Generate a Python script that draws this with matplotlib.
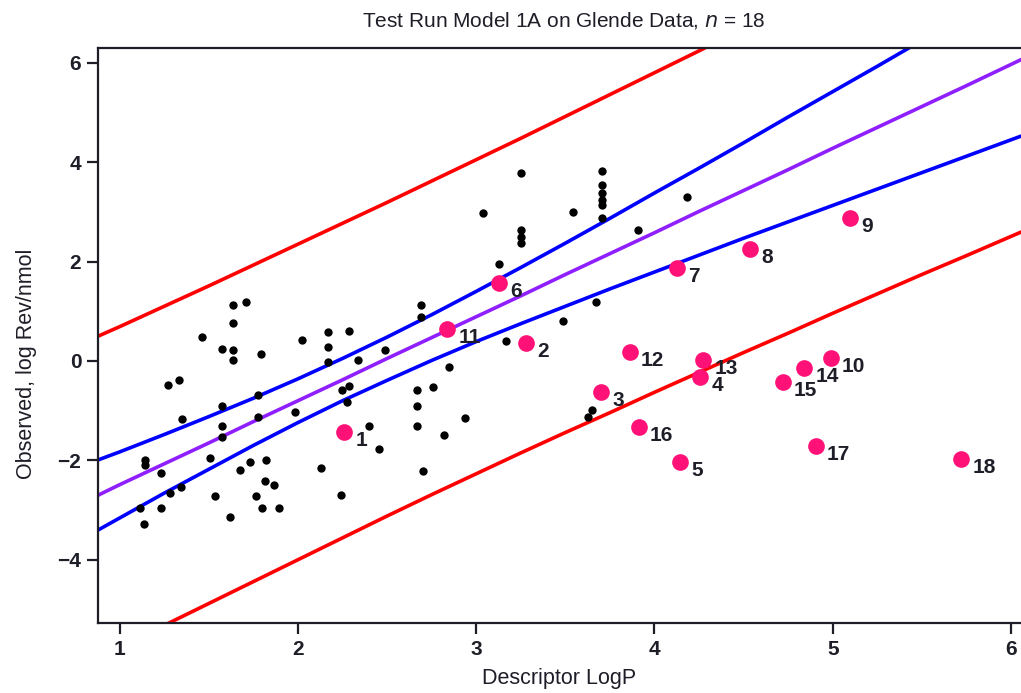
import matplotlib
matplotlib.use("Agg")
import matplotlib.pyplot as plt

plt.rcParams['font.family'] = ['Liberation Sans', 'DejaVu Sans']

# ---- data ----
# training set (black dots)
train_x = [1.349, 1.577, 1.575, 1.143, 1.143, 1.233, 1.345, 1.283, 1.506, 1.730,
           1.823, 1.678, 1.816, 1.868, 1.536, 1.764, 1.115, 1.233, 1.798, 1.895,
           1.621, 1.137, 1.635, 1.709, 1.635, 1.461, 2.024, 1.575, 1.638, 1.635,
           1.794, 1.274, 1.334, 1.778, 1.577, 1.775, 1.984, 2.169, 2.287, 2.169,
           2.489, 2.336, 2.169, 2.850, 2.760, 2.667, 2.667, 2.246, 2.289, 2.274,
           2.399, 2.667, 2.935, 2.820, 2.457, 2.128, 2.704, 2.241, 2.691, 2.691,
           3.252, 3.706, 3.706, 3.706, 3.706, 3.706, 3.706, 3.037, 3.545, 3.252,
           3.252, 3.252, 4.181, 3.906, 3.127, 3.674, 3.489, 3.168, 3.648, 3.629]
train_y = [-1.167, -1.308, -1.529, -1.992, -2.093, -2.254, -2.529, -2.656, -1.952, -2.032,
           -1.992, -2.193, -2.408, -2.501, -2.716, -2.716, -2.964, -2.964, -2.964, -2.964,
           -3.133, -3.286, 1.127, 1.193, 0.759, 0.489, 0.423, 0.235, 0.221, 0.020,
           0.131, -0.493, -0.382, -0.680, -0.899, -1.121, -1.036, 0.577, 0.610, 0.288,
           0.221, 0.020, -0.014, -0.127, -0.529, -0.584, -0.905, -0.584, -0.503, -0.819,
           -1.302, -1.314, -1.153, -1.495, -1.777, -2.147, -2.207, -2.706, 1.127, 0.885,
           3.789, 3.829, 3.541, 3.380, 3.239, 3.139, 2.871, 2.984, 2.992, 2.636,
           2.501, 2.368, 3.306, 2.636, 1.946, 1.193, 0.805, 0.408, -0.986, -1.121]

# test set (pink dots), labelled 1..18
test_labels = [str(i) for i in range(1, 19)]
test_x = [2.261, 3.278, 3.700, 4.256, 4.144, 3.130, 4.128, 4.536, 5.097, 4.989,
          2.838, 3.863, 4.274, 4.839, 4.720, 3.912, 4.905, 5.720]
test_y = [-1.423, 0.368, -0.624, -0.316, -2.026, 1.563, 1.877, 2.247, 2.871, 0.054,
          0.638, 0.181, 0.020, -0.147, -0.417, -1.334, -1.710, -1.972]

# fitted line, confidence band and prediction band (read at sample x values)
curve_x = [0.88, 1.0, 1.25, 1.5, 1.75, 2.0, 2.25, 2.5, 2.75, 3.0, 3.25,
           3.5, 3.75, 4.0, 4.25, 4.5, 4.75, 5.0, 5.25, 5.5, 5.75, 6.06]
fit_y = [-2.70, -2.49, -2.07, -1.65, -1.22, -0.80, -0.38, 0.05, 0.47, 0.89, 1.31,
         1.74, 2.16, 2.58, 3.01, 3.43, 3.85, 4.28, 4.70, 5.12, 5.54, 6.07]
ci_up = [-1.99, -1.83, -1.48, -1.12, -0.75, -0.36, 0.05, 0.48, 0.93, 1.40, 1.88,
         2.37, 2.87, 3.38, 3.88, 4.39, 4.91, 5.42, 5.93, 6.45, 6.97, 7.61]
ci_lo = [-3.40, -3.16, -2.66, -2.18, -1.70, -1.24, -0.80, -0.39, 0.01, 0.39, 0.75,
         1.10, 1.45, 1.79, 2.13, 2.47, 2.80, 3.13, 3.46, 3.79, 4.12, 4.53]
pi_up = [0.50, 0.69, 1.10, 1.51, 1.93, 2.35, 2.77, 3.19, 3.62, 4.05, 4.48,
         4.92, 5.36, 5.80, 6.24, 6.69, 7.14, 7.59, 8.05, 8.51, 8.97, 9.54]
pi_lo = [-5.97, -5.76, -5.32, -4.88, -4.44, -4.00, -3.56, -3.12, -2.69, -2.27, -1.85,
         -1.44, -1.04, -0.63, -0.23, 0.17, 0.56, 0.96, 1.35, 1.74, 2.12, 2.60]

x_ticks = [1, 2, 3, 4, 5, 6]
y_ticks = [-4, -2, 0, 2, 4, 6]

# ---- figure ----
fig = plt.figure(figsize=(10.21, 6.93), dpi=100)
ax = fig.add_axes([98 / 1021, 70 / 693, 1 - 98 / 1021, 575 / 693])

lw = 2.6
ax.plot(curve_x, pi_up, color='#FF0000', lw=lw, zorder=2)
ax.plot(curve_x, pi_lo, color='#FF0000', lw=lw, zorder=2)
ax.plot(curve_x, ci_up, color='#0000FF', lw=lw, zorder=2)
ax.plot(curve_x, ci_lo, color='#0000FF', lw=lw, zorder=2)
ax.plot(curve_x, fit_y, color='#8F1FFF', lw=lw, zorder=2)

ax.plot(train_x, train_y, 'o', color='black', ms=6, mec='none', zorder=3)
ax.plot(test_x, test_y, 'o', color='#FF1177', ms=12, mec='none', zorder=4)
for lab, xv, yv in zip(test_labels, test_x, test_y):
    ax.annotate(lab, (xv, yv), xytext=(8, -6), textcoords='offset points',
                ha='left', va='center', fontsize=15, fontweight='bold',
                color='#1e1e28', zorder=5)

ax.set_xlim(0.879, 6.056)
ax.set_ylim(-5.272, 6.298)
ax.set_xticks(x_ticks)
ax.set_yticks(y_ticks)
ax.tick_params(direction='out', length=8, width=1.6, labelsize=15, pad=4,
               colors='#1e1e28')
for lab in ax.get_xticklabels() + ax.get_yticklabels():
    lab.set_fontweight('bold')
ax.spines['right'].set_visible(False)
for s in ['left', 'bottom', 'top']:
    ax.spines[s].set_linewidth(1.6)
    ax.spines[s].set_color('#1e1e28')

ax.set_xlabel('Descriptor LogP', fontsize=15.5, color='#1e1e28')
ax.set_ylabel('Observed, log Rev/nmol', fontsize=15.5, color='#1e1e28')
ax.xaxis.set_label_coords(0.5, -0.078)
ax.yaxis.set_label_coords(-0.066, 0.45)
fig.text(0.552, 0.970, 'Test Run Model 1A on Glende Data, $\\it{n}$ = 18',
         ha='center', va='center', fontsize=15, color='#1e1e28')

fig.savefig('out.png', dpi=100)
